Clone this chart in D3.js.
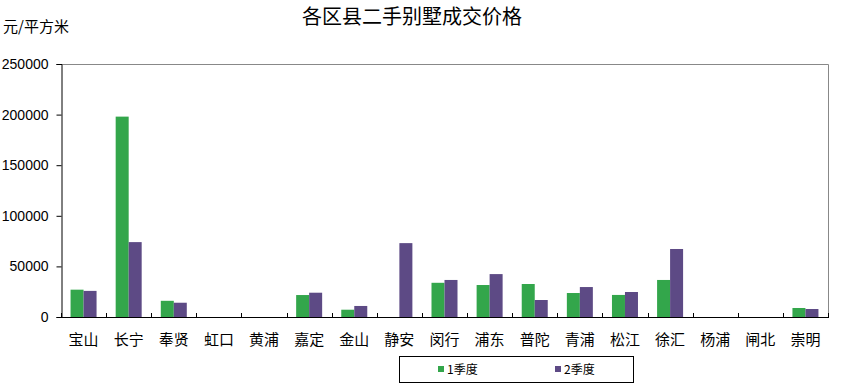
<!DOCTYPE html>
<html>
<head>
<meta charset="utf-8">
<script src="https://cdn.jsdelivr.net/npm/d3@7/dist/d3.min.js"></script>
<style>
  body { margin: 0; background: #fff; }
  text { font-family: "Liberation Sans", "Noto Sans CJK SC", sans-serif; }
  .cjk { font-family: "Noto Sans CJK SC", sans-serif; }
</style>
</head>
<body>
<div id="chart"></div>
<script>
const districts = ['宝山', '长宁', '奉贤', '虹口', '黄浦', '嘉定', '金山', '静安', '闵行', '浦东', '普陀', '青浦', '松江', '徐汇', '杨浦', '闸北', '崇明'];
const q1 = [27000, 198000, 16000, 0, 0, 21700, 7200, 0, 33800, 31600, 32600, 23700, 21800, 36600, 0, 0, 8900];
const q2 = [25800, 74000, 14100, 0, 0, 24000, 10900, 73000, 36600, 42400, 16800, 29600, 24700, 67200, 0, 0, 7900];
const seriesNames = ['1季度', '2季度'];
const yTicks = [0, 50000, 100000, 150000, 200000, 250000];

const width = 841;
const height = 387;
const plotLeft = 61, plotRight = 828, plotTop = 64, plotBottom = 317;
const colors = ['#33a64b', '#5d4a85'];

const svg = d3.select('#chart')
    .append('svg')
    .attr('width', width)
    .attr('height', height);

const xScale = d3.scaleBand()
    .domain(districts)
    .range([plotLeft, plotRight]);

const yScale = d3.scaleLinear()
    .domain([0, 250000])
    .range([plotBottom, plotTop]);

const barW = 13;

// plot frame (top / right in grey)
svg.append('path')
    .attr('d', `M${plotLeft},${plotTop + 0.5}H${plotRight + 0.5}V${plotBottom}`)
    .attr('fill', 'none')
    .attr('stroke', '#888');

// bars
const rows = districts.map((d, i) => ({ name: d, vals: [q1[i], q2[i]] }));
rows.forEach(r => {
    r.vals.forEach((v, k) => {
        if (!v) return;
        const cx = xScale(r.name) + xScale.bandwidth() / 2;
        svg.append('rect')
            .attr('x', cx - barW + k * barW)
            .attr('y', yScale(v))
            .attr('width', barW)
            .attr('height', plotBottom - yScale(v))
            .attr('fill', colors[k]);
    });
});

// y axis
const yAxis = d3.axisLeft(yScale)
    .tickValues(yTicks)
    .tickSize(5)
    .tickPadding(8)
    .tickFormat(d3.format('d'));

svg.append('g')
    .attr('id', 'y-axis')
    .attr('transform', `translate(${plotLeft + 0.5}, 0)`)
    .call(yAxis)
    .call(g => g.select('.domain').attr('stroke', '#000'))
    .call(g => g.selectAll('text').attr('font-size', 14).attr('fill', '#000')
        .style('font-family', '"Liberation Sans", sans-serif'));

// x axis: ticks on category boundaries, pointing up
const boundaries = districts.map(d => xScale(d)).concat([plotRight]);
const xg = svg.append('g').attr('id', 'x-axis');
xg.append('line')
    .attr('x1', plotLeft).attr('x2', plotRight + 1)
    .attr('y1', plotBottom + 0.5).attr('y2', plotBottom + 0.5)
    .attr('stroke', '#000');
xg.selectAll('.tk')
    .data(boundaries)
    .enter()
    .append('line')
    .attr('x1', d => Math.round(d) + 0.5).attr('x2', d => Math.round(d) + 0.5)
    .attr('y1', plotBottom - 4).attr('y2', plotBottom + 0.5)
    .attr('stroke', '#000');
xg.selectAll('.lbl')
    .data(districts)
    .enter()
    .append('text')
    .attr('class', 'cjk')
    .attr('x', d => xScale(d) + xScale.bandwidth() / 2)
    .attr('y', 345)
    .attr('text-anchor', 'middle')
    .attr('font-size', 15)
    .attr('fill', '#000')
    .text(d => d);

// title and unit
svg.append('text')
    .attr('class', 'cjk')
    .attr('x', 412)
    .attr('y', 24)
    .attr('text-anchor', 'middle')
    .attr('font-size', 20)
    .attr('font-weight', 400)
    .text('各区县二手别墅成交价格');

svg.append('text')
    .attr('class', 'cjk')
    .attr('x', 3)
    .attr('y', 32)
    .attr('font-size', 15)
    .text('元/平方米');

// legend
const lg = svg.append('g');
lg.append('rect')
    .attr('x', 399.5).attr('y', 356.5)
    .attr('width', 234).attr('height', 26)
    .attr('fill', '#fff').attr('stroke', '#000');
seriesNames.forEach((s, k) => {
    const x0 = 438 + k * 117;
    lg.append('rect')
        .attr('x', x0).attr('y', 366)
        .attr('width', 6).attr('height', 6)
        .attr('fill', colors[k]);
    lg.append('text')
        .attr('class', 'cjk')
        .attr('x', x0 + 9)
        .attr('y', 374)
        .attr('font-size', 12)
        .text(s);
});
</script>
</body>
</html>
